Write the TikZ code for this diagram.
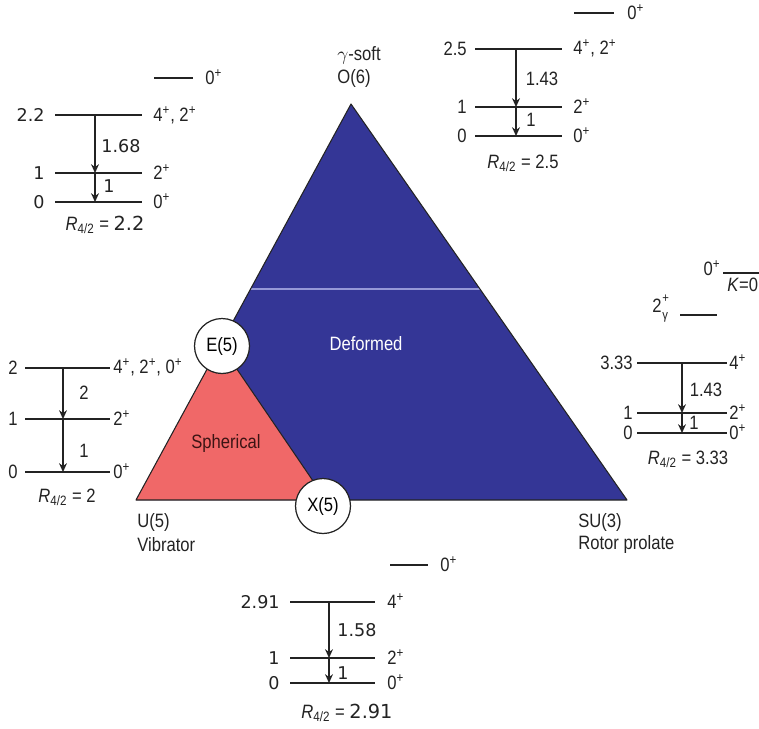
\documentclass[tikz,border=0pt]{standalone}
\usepackage{fontspec}
\setmainfont{Liberation Sans}[FakeStretch=0.86]
\newfontfamily\dv{DejaVu Sans}
\usetikzlibrary{arrows.meta}
\definecolor{dblue}{RGB}{52,54,150}
\definecolor{sred}{RGB}{240,104,104}
\definecolor{lblue}{RGB}{150,152,215}
\definecolor{ink}{RGB}{35,35,35}
\newcommand{\pl}{\textsuperscript{+}}
\newcommand{\levline}[4]{\coordinate (#1L) at (#2,#4); \coordinate (#1R) at (#3,#4); \draw[lvl] (#1L) -- (#1R);}
\begin{document}
\begin{tikzpicture}[x=0.02cm,y=-0.02cm,
  lvl/.style={line width=0.8pt, draw=ink},
  trans/.style={-{Stealth[length=5pt,width=4.5pt]}, line width=0.8pt, draw=ink},
  lab/.style={font=\fontsize{11}{13}\selectfont, inner sep=0, text=ink},
  small/.style={font=\fontsize{7.5}{8}\selectfont, inner sep=0, text=ink},
  dvlab/.style={font=\dv\fontsize{10}{12}\selectfont, inner sep=0, text=ink},
  outline/.style={draw=ink, line width=0.6pt, line join=round},
  pt/.style={circle, draw=ink, line width=0.7pt, fill=white, minimum size=1.1cm, inner sep=0, font=\fontsize{11}{13}\selectfont}]
\useasboundingbox (0,0) rectangle (759,728);
% --- triangle ---
\coordinate (U5) at (136,500);
\coordinate (O6) at (351,104);
\coordinate (SU3) at (627,500);
\coordinate (Etop) at (220.5,345);
\coordinate (Xbot) at (326,500);
\coordinate (hl1) at (250.6,289);
\coordinate (hl2) at (480,289);
\fill[dblue] (U5) -- (O6) -- (SU3) -- cycle;
\draw[lblue, line width=1.4pt] (hl1) -- (hl2);
\fill[sred] (U5) -- (Etop) -- (Xbot) -- cycle;
\draw[outline] (U5) -- (O6) -- (SU3) -- cycle;
\draw[outline] (Etop) -- (Xbot);
\node[pt] (E5) at (222,346) {E(5)};
\node[pt] (X5) at (323,506) {X(5)};
\node[lab, text=white] (def) at (366,344) {Deformed};
\node[lab, text={rgb,255:red,60;green,20;blue,20}] (sph) at (226,443) {Spherical};
\node[lab, anchor=west] (gs) at (337,55) {$\gamma$-soft};
\node[lab, anchor=west] (o6l) at (337,78) {O(6)};
\node[lab, anchor=west] (u5l) at (137,522) {U(5)};
\node[lab, anchor=west] (vib) at (137,545) {Vibrator};
\node[lab, anchor=west] (su3l) at (578,522) {SU(3)};
\node[lab, anchor=west] (rot) at (578,544) {Rotor prolate};
% --- top-left scheme ---
\levline{tlz}{154}{193}{78}
\levline{tlf}{55}{142}{115}
\levline{tlo}{55}{142}{173}
\levline{tlg}{55}{142}{202}
\coordinate (tlfm) at (95,115); \coordinate (tlom) at (95,173); \coordinate (tlgm) at (95,202);
\draw[trans] (tlfm) -- (tlom);
\draw[trans] (tlom) -- (tlgm);
\node[lab, anchor=west] (tlzr) at (205,77) {0\pl};
\node[dvlab, anchor=east] (tlfl) at (45,115) {2.2};
\node[dvlab, anchor=east] (tlol) at (45,173) {1};
\node[dvlab, anchor=east] (tlgl) at (45,202) {0};
\node[lab, anchor=west] (tlfr) at (153,115) {4\pl, 2\pl};
\node[lab, anchor=west] (tlor) at (153,172) {2\pl};
\node[lab, anchor=west] (tlgr) at (153,201) {0\pl};
\node[dvlab] (tlt1) at (121,146) {1.68};
\node[dvlab] (tlt2) at (109,186) {1};
\node[lab] (tlR) at (105,225) {\textit{R}\textsubscript{4/2} = {\dv 2.2}};
% --- top-right scheme ---
\levline{trz}{574}{614}{13}
\levline{trf}{475}{562}{49}
\levline{tro}{475}{562}{107}
\levline{trg}{475}{562}{136}
\coordinate (trfm) at (516,49); \coordinate (trom) at (516,107); \coordinate (trgm) at (516,136);
\draw[trans] (trfm) -- (trom);
\draw[trans] (trom) -- (trgm);
\node[lab, anchor=west] (trzr) at (627,12) {0\pl};
\node[lab, anchor=east] (trfl) at (467,49) {2.5};
\node[lab, anchor=east] (trol) at (467,107) {1};
\node[lab, anchor=east] (trgl) at (467,136) {0};
\node[lab, anchor=west] (trfr) at (573,48) {4\pl, 2\pl};
\node[lab, anchor=west] (tror) at (573,106) {2\pl};
\node[lab, anchor=west] (trgr) at (573,135) {0\pl};
\node[lab] (trt1) at (542,79) {1.43};
\node[lab] (trt2) at (531,120) {1};
\node[lab] (trR) at (523,163) {\textit{R}\textsubscript{4/2} = 2.5};
% --- left scheme ---
\levline{lf}{25}{110}{368}
\levline{lo}{25}{110}{419}
\levline{lg}{25}{110}{472}
\coordinate (lfm) at (63,368); \coordinate (lom) at (63,419); \coordinate (lgm) at (63,472);
\draw[trans] (lfm) -- (lom);
\draw[trans] (lom) -- (lgm);
\node[lab, anchor=east] (lfl) at (18,368) {2};
\node[lab, anchor=east] (lol) at (18,419) {1};
\node[lab, anchor=east] (lgl) at (18,472) {0};
\node[lab, anchor=west] (lfr) at (113,367) {4\pl, 2\pl, 0\pl};
\node[lab, anchor=west] (lor) at (113,418) {2\pl};
\node[lab, anchor=west] (lgr) at (113,471) {0\pl};
\node[lab] (lt1) at (84,393) {2};
\node[lab] (lt2) at (84,451) {1};
\node[lab] (lR) at (67,497) {\textit{R}\textsubscript{4/2} = 2};
% --- right scheme ---
\levline{rk}{723}{775}{273}
\levline{rgam}{680}{717}{315}
\levline{rf}{637}{727}{363}
\levline{ro}{637}{727}{413}
\levline{rg}{637}{727}{433}
\coordinate (rfm) at (682,363); \coordinate (rom) at (682,413); \coordinate (rgm) at (682,433);
\draw[trans] (rfm) -- (rom);
\draw[trans] (rom) -- (rgm);
\node[lab, anchor=east] (rkl) at (721,268) {0\pl};
\node[lab, anchor=west] (rkb) at (727,285) {\textit{K}=0};
\node[lab, anchor=east] (rgaml) at (662,306) {2};
\node[small, anchor=west] (rgamp) at (rgaml.north east) {+};
\node[small, anchor=north west] (rgamg) at ([yshift=-7.5pt]rgaml.north east) {γ};
\node[lab, anchor=east] (rfl) at (633,363) {3.33};
\node[lab, anchor=east] (rol) at (633,413) {1};
\node[lab, anchor=east] (rgl) at (633,433) {0};
\node[lab, anchor=west] (rfr) at (729,362) {4\pl};
\node[lab, anchor=west] (ror) at (729,412) {2\pl};
\node[lab, anchor=west] (rgr) at (729,432) {0\pl};
\node[lab] (rt1) at (706,390) {1.43};
\node[lab] (rt2) at (694,423) {1};
\node[lab] (rR) at (688,459) {\textit{R}\textsubscript{4/2} = 3.33};
% --- bottom scheme ---
\levline{bz}{390}{428}{565}
\levline{bf}{290}{375}{602}
\levline{bo}{290}{375}{658}
\levline{bg}{290}{375}{683}
\coordinate (bfm) at (329,602); \coordinate (bom) at (329,658); \coordinate (bgm) at (329,683);
\draw[trans] (bfm) -- (bom);
\draw[trans] (bom) -- (bgm);
\node[lab, anchor=west] (bzr) at (440,564) {0\pl};
\node[dvlab, anchor=east] (bfl) at (280,602) {2.91};
\node[dvlab, anchor=east] (bol) at (280,658) {1};
\node[dvlab, anchor=east] (bgl) at (280,683) {0};
\node[lab, anchor=west] (bfr) at (387,601) {4\pl};
\node[lab, anchor=west] (bor) at (387,657) {2\pl};
\node[lab, anchor=west] (bgr) at (387,682) {0\pl};
\node[dvlab] (bt1) at (357,630) {1.58};
\node[dvlab] (bt2) at (343,673) {1};
\node[lab] (bR) at (347,713) {\textit{R}\textsubscript{4/2} = {\dv 2.91}};
\end{tikzpicture}
\end{document}
